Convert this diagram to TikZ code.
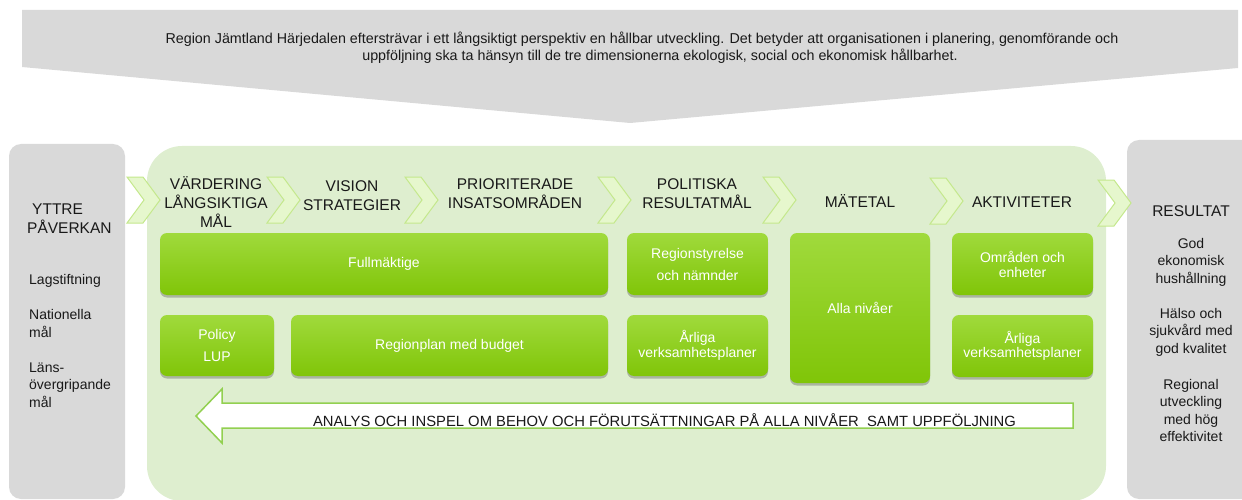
\documentclass[tikz,border=0pt]{standalone}
\usepackage{fontspec}
\setmainfont{Liberation Sans}
\usetikzlibrary{shadows}
\definecolor{graybox}{RGB}{217,217,217}
\definecolor{greenbg}{RGB}{222,238,207}
\definecolor{chevfill}{RGB}{230,247,205}
\definecolor{chevline}{RGB}{196,232,140}
\definecolor{gtop}{RGB}{160,218,60}
\definecolor{gbot}{RGB}{128,197,8}
\definecolor{arrline}{RGB}{146,208,80}
\definecolor{txt}{RGB}{25,25,25}
\begin{document}
\begin{tikzpicture}[x=1pt,y=-1pt,
  gbox/.style={rectangle, rounded corners=7pt, top color=gtop, bottom color=gbot,
    draw=none, text=white, align=center, inner sep=0pt,
    drop shadow={shadow xshift=0pt, shadow yshift=-2.5pt, opacity=0.35, fill=black!70}},
  gtext/.style={font=\fontsize{14}{#1}\selectfont},
  head/.style={font=\fontsize{15.5}{19}\selectfont, align=center, text=txt, inner sep=0pt, anchor=base},
  side/.style={font=\fontsize{14}{17.5}\selectfont, text=txt, inner sep=0pt, anchor=base},
  chev/.pic={\draw[fill=chevfill, draw=chevline, line width=1pt, line join=miter]
      (0,0) -- (16,0) -- (33,23) -- (16,46) -- (0,46) -- (17,23) -- cycle;}
 ]
\useasboundingbox (0,0) rectangle (1242,500);
\clip (0,0) rectangle (1242,500);

% top banner
\fill[graybox] (22,10) -- (1238,10) -- (1238,68) -- (630,123) -- (22,67) -- cycle;
\node[anchor=base, inner sep=0pt, text=txt, font=\fontsize{14.3}{17}\selectfont] (b1) at (642,44)
  {Region Jämtland Härjedalen eftersträvar i ett långsiktigt perspektiv en hållbar utveckling. Det betyder att organisationen i planering, genomförande och};
\node[anchor=base, inner sep=0pt, text=txt, font=\fontsize{14.3}{17}\selectfont] (b2) at (660,61)
  {uppföljning ska ta hänsyn till de tre dimensionerna ekologisk, social och ekonomisk hållbarhet.};

% side boxes and green background
\fill[graybox, rounded corners=12pt] (9,144) rectangle (125,499);
\fill[graybox, rounded corners=12pt] (1127,140) rectangle (1262,499);
\fill[greenbg, rounded corners=35pt] (147,146) rectangle (1106,501);

% chevrons
\pic at (127,177) {chev};
\pic at (267,177) {chev};
\pic at (405,177) {chev};
\pic at (598,177) {chev};
\pic at (763,177) {chev};
\pic at (930,178) {chev};
\pic at (1098,180) {chev};

% headers (anchor=base is the baseline of the last line)
\node[head] (h1) at (216,227.3) {VÄRDERING\\LÅNGSIKTIGA\\MÅL};
\node[head] (h2) at (352,210) {VISION\\STRATEGIER};
\node[head] (h3) at (515,208.3) {PRIORITERADE\\INSATSOMRÅDEN};
\node[head] (h4) at (697,208.3) {POLITISKA\\RESULTATMÅL};
\node[head] (h5) at (860,207.3) {MÄTETAL};
\node[head] (h6) at (1022,207.3) {AKTIVITETER};
\node[head, align=left, anchor=base west] (yt) at (27,233.3) {\hspace{5pt}YTTRE\\PÅVERKAN};
\node[head] (res) at (1191,216) {RESULTAT};

% green boxes
\node[gbox, minimum width=448pt, minimum height=62pt, gtext=16] (full) at (384,264) {Fullmäktige};
\node[gbox, minimum width=141pt, minimum height=62pt, gtext=22] (rs) at (697.5,264) {Regionstyrelse\\och nämnder};
\node[gbox, minimum width=140pt, minimum height=150pt, gtext=16] (alla) at (860,308) {Alla nivåer};
\node[gbox, minimum width=141pt, minimum height=62pt, gtext=15] (omr) at (1022.5,264) {Områden och\\enheter};
\node[gbox, minimum width=114pt, minimum height=61pt, gtext=22] (pol) at (217,345.5) {Policy\\LUP};
\node[gbox, minimum width=317pt, minimum height=61pt, gtext=16] (rplan) at (449.5,345.5) {Regionplan med budget};
\node[gbox, minimum width=141pt, minimum height=61pt, gtext=14.5] (arl1) at (697.5,345.5) {Årliga\\verksamhetsplaner};
\node[gbox, minimum width=141pt, minimum height=62pt, gtext=14.5] (arl2) at (1022.5,346) {Årliga\\verksamhetsplaner};

% feedback arrow
\draw[fill=white, draw=arrline, line width=1.5pt, line join=miter]
  (196,416) -- (222,389) -- (222,403) -- (1073,403) -- (1073,428) -- (222,428) -- (222,443) -- cycle;
\node[anchor=base, inner sep=0pt, text=txt, font=\fontsize{14.8}{17}\selectfont] (analys) at (664.5,426.5)
  {ANALYS OCH INSPEL OM BEHOV OCH FÖRUTSÄTTNINGAR PÅ ALLA NIVÅER\ \ SAMT UPPFÖLJNING};

% left texts
\node[side, anchor=base west] (lag) at (29,284) {Lagstiftning};
\node[side, anchor=base west, align=left, font=\fontsize{14}{18}\selectfont] (nat) at (29,337.3) {Nationella\\mål};
\node[side, anchor=base west, align=left] (lans) at (29,407.3) {Läns-\\övergripande\\mål};

% right texts
\node[side, align=center] (god) at (1191,283.3) {God\\ekonomisk\\hushållning};
\node[side, align=center] (hal) at (1191,353.3) {Hälso och\\sjukvård med\\god kvalitet};
\node[side, align=center] (reg) at (1191,441.7) {Regional\\utveckling\\med hög\\effektivitet};
\end{tikzpicture}
\end{document}
